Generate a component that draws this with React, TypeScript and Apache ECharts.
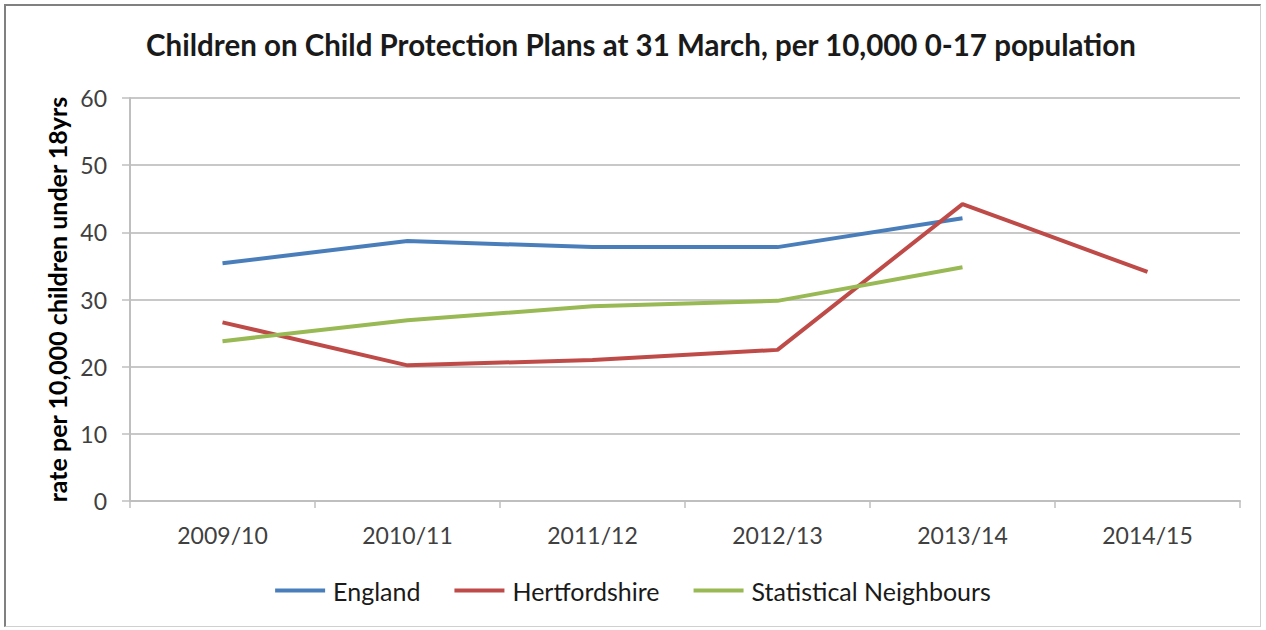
import React, { useEffect, useRef } from "react";
import * as echarts from "echarts";

const categories = ["2009/10", "2010/11", "2011/12", "2012/13", "2013/14", "2014/15"];
const england = [35.4, 38.7, 37.8, 37.8, 42.1, null];
const hertfordshire = [26.6, 20.2, 21.0, 22.5, 44.2, 34.1];
const statNeighbours = [23.8, 26.9, 29.0, 29.8, 34.8, null];
const yTicks = { min: 0, max: 60, interval: 10 };

const FONT = "Lato, 'Open Sans', sans-serif";

export default function App() {
  const ref = useRef<HTMLDivElement>(null);
  useEffect(() => {
    if (!ref.current) return;
    const chart = echarts.init(ref.current, null, { renderer: "svg" });
    chart.setOption({
      animation: false,
      backgroundColor: "#ffffff",
      title: {
        text: "Children on Child Protection Plans at 31 March, per 10,000 0-17 population",
        left: 636,
        textAlign: "center",
        top: 24,
        textStyle: { fontFamily: FONT, fontSize: 29.5, fontWeight: "bold", color: "#1a1a1a" },
      },
      grid: { left: 130, right: 26, top: 98, bottom: 129, containLabel: false },
      xAxis: {
        type: "category",
        data: categories,
        boundaryGap: true,
        axisLine: { lineStyle: { color: "#bfbfbf", width: 2 } },
        axisTick: { show: true, length: 7, lineStyle: { color: "#bfbfbf", width: 1.5 } },
        axisLabel: { fontFamily: FONT, fontSize: 23, color: "#404040", margin: 22 },
      },
      yAxis: {
        type: "value",
        min: yTicks.min,
        max: yTicks.max,
        interval: yTicks.interval,
        name: "rate per 10,000 children under 18yrs",
        nameLocation: "middle",
        nameGap: 60,
        nameTextStyle: { fontFamily: FONT, fontSize: 25, fontWeight: "bold", color: "#000000" },
        axisLine: { show: true, lineStyle: { color: "#bfbfbf", width: 2 } },
        axisTick: { show: true, length: 8, lineStyle: { color: "#bfbfbf", width: 1.5 } },
        axisLabel: { fontFamily: FONT, fontSize: 23, color: "#404040", margin: 23 },
        splitLine: { lineStyle: { color: "#c8c8c8", width: 2 } },
      },
      legend: {
        top: 573,
        left: "center",
        itemWidth: 50,
        itemHeight: 4,
        itemGap: 34,
        icon: "rect",
        textStyle: { fontFamily: FONT, fontSize: 25, color: "#1a1a1a", padding: [0, 0, 0, 3] },
        data: ["England", "Hertfordshire", "Statistical Neighbours"],
      },
      series: [
        {
          name: "England",
          type: "line",
          data: england,
          showSymbol: false,
          symbol: "none",
          lineStyle: { color: "#4A7EBB", width: 4 },
          itemStyle: { color: "#4A7EBB" },
        },
        {
          name: "Hertfordshire",
          type: "line",
          data: hertfordshire,
          showSymbol: false,
          symbol: "none",
          lineStyle: { color: "#BE4B48", width: 4 },
          itemStyle: { color: "#BE4B48" },
        },
        {
          name: "Statistical Neighbours",
          type: "line",
          data: statNeighbours,
          showSymbol: false,
          symbol: "none",
          lineStyle: { color: "#98B954", width: 4 },
          itemStyle: { color: "#98B954" },
        },
      ],
    });
    return () => chart.dispose();
  }, []);
  return (
    <div
      style={{
        position: "absolute",
        left: 0,
        top: 0,
        width: 1266,
        height: 630,
        background: "#ffffff",
      }}
    >
      <div
        style={{
          position: "absolute",
          left: 4,
          top: 4,
          width: 1257,
          height: 623,
          boxSizing: "border-box",
          borderTop: "2px solid #808080",
          borderLeft: "2px solid #808080",
          borderRight: "1px solid #d0d0d0",
          borderBottom: "1px solid #d0d0d0",
          pointerEvents: "none",
          zIndex: 2,
        }}
      />
      <div ref={ref} style={{ position: "absolute", left: 0, top: 0, width: 1266, height: 630 }} />
    </div>
  );
}
